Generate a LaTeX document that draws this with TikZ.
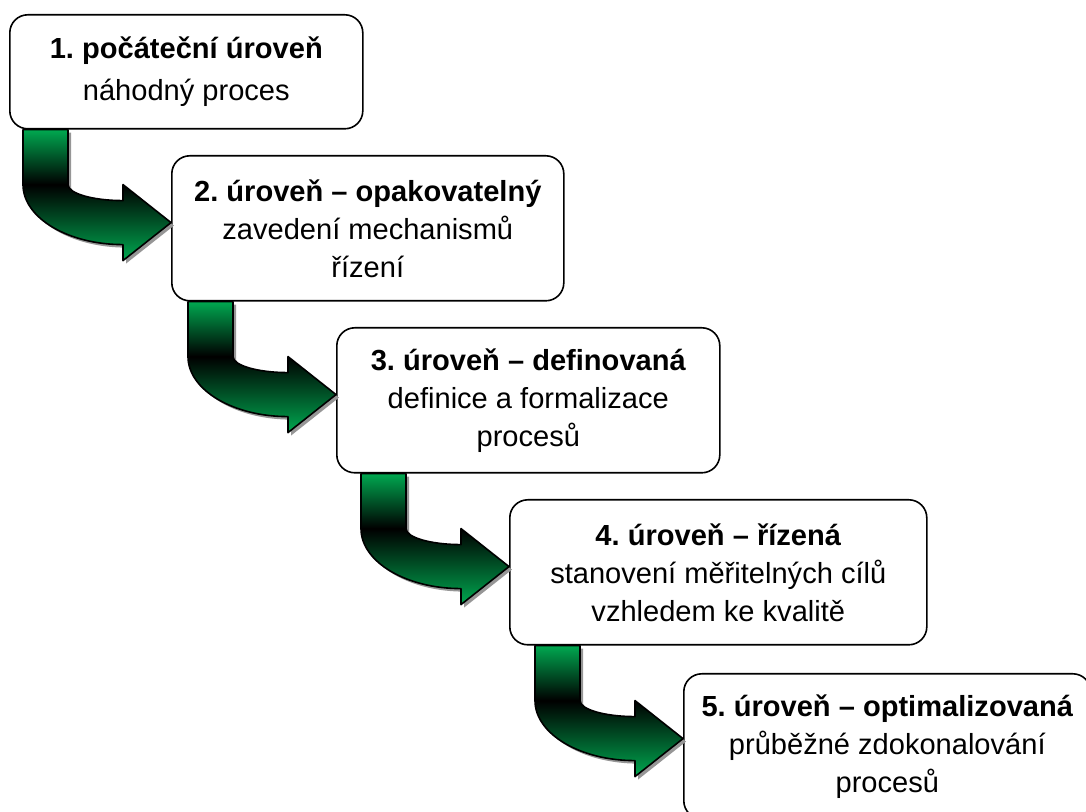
\documentclass[tikz,border=0pt]{standalone}
\usepackage{fontspec}
\setmainfont{Liberation Sans}
\usetikzlibrary{calc}
\frenchspacing

\definecolor{arrgreen}{RGB}{0,168,80}
\definecolor{shadowgray}{RGB}{150,150,150}

% bent arrow from the bottom of box #1 to the left side of box #2
\newcommand{\levelarrow}[2]{%
  \coordinate (t)  at ($(#2.west |- #1.south)+(0,93)$);
  \coordinate (o)  at ($(t |- #1.south)+(-148,0)$);
  \coordinate (o2) at ($(o)+(45,0)$);
  \coordinate (ib) at ($(o2 |- t)+(0,-38)$);
  \coordinate (ie) at ($(t)+(-48,-22)$);
  \coordinate (ht) at ($(t)+(-48,-38)$);
  \coordinate (hb) at ($(t)+(-48,38)$);
  \coordinate (oe) at ($(t)+(-48,22)$);
  \coordinate (ob) at ($(o |- t)+(0,-38)$);
  \coordinate (ic) at (ib |- ie);
  \coordinate (oc) at (ob |- oe);
  \path[save path=\arrshape] (o) -- (o2) -- (ib)
    .. controls ($(ib)!.5523!(ic)$) and ($(ie)!.5523!(ic)$) .. (ie)
    -- (ht) -- (t) -- (hb) -- (oe)
    .. controls ($(oe)!.5523!(oc)$) and ($(ob)!.5523!(oc)$) .. (ob) -- cycle;
  \fill[shadowgray, transform canvas={shift={(3,3)}}, use path=\arrshape];
  \shade[top color=arrgreen, middle color=arrgreen!65!black, bottom color=black]
    (o) rectangle (ib);
  \shade[top color=black, bottom color=arrgreen] (ob) -- (ib)
    .. controls ($(ib)!.5523!(ic)$) and ($(ie)!.5523!(ic)$) .. (ie)
    -- (ht) -- (t) -- (hb) -- (oe)
    .. controls ($(oe)!.5523!(oc)$) and ($(ob)!.5523!(oc)$) .. (ob) -- cycle;
  \draw[arr, use path=\arrshape];
}

\begin{document}
\begin{tikzpicture}[
  x=0.75pt, y=-0.75pt,
  lvl/.style={draw, line width=1.2pt, rounded corners=13.5pt, fill=white,
              anchor=north west, align=center, inner sep=0pt,
              minimum height=108.75pt,
              font=\fontsize{21.8}{28.5}\selectfont},
  arr/.style={line width=1.2pt, line join=round}
]
  \useasboundingbox (0,0) rectangle (1086,812);

  % Levels
  \node[lvl, minimum width=264.75pt, minimum height=85.5pt] (l1) at (9,14)
    {\textbf{1. počáteční úroveň}\\[3pt] náhodný proces};
  \node[lvl, minimum width=294pt] (l2) at (171,155)
    {\textbf{2. úroveň – opakovatelný}\\ zavedení mechanismů\\ řízení};
  \node[lvl, minimum width=287.25pt] (l3) at (336,327)
    {\textbf{3. úroveň – definovaná}\\ definice a formalizace\\ procesů};
  \node[lvl, minimum width=312.75pt] (l4) at (509,499)
    {\textbf{4. úroveň – řízená}\\ stanovení měřitelných cílů\\ vzhledem ke kvalitě};
  \node[lvl, minimum width=305.25pt] (l5) at (683,673)
    {\textbf{5. úroveň – optimalizovaná}\\ průběžné zdokonalování\\ procesů};

  % Arrows
  \levelarrow{l1}{l2}
  \levelarrow{l2}{l3}
  \levelarrow{l3}{l4}
  \levelarrow{l4}{l5}
\end{tikzpicture}
\end{document}
